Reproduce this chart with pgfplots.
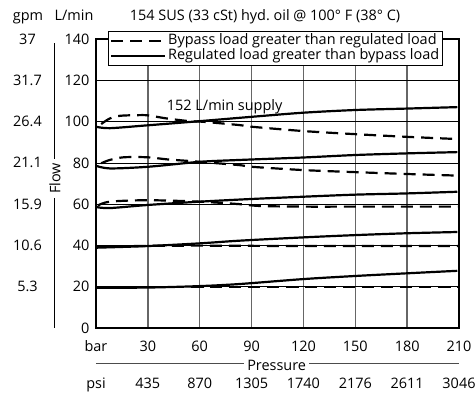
\documentclass[border=0pt]{standalone}
\usepackage{fontspec}
\setmainfont{Open Sans}
\usepackage{pgfplots}
\pgfplotsset{compat=1.18}
\begin{document}
\begin{tikzpicture}[font=\fontsize{14.5}{16}\selectfont]
\useasboundingbox (-96bp,-66bp) rectangle (380bp,328bp);
\begin{axis}[
  at={(0,0)}, anchor=south west,
  scale only axis, width=363bp, height=289bp,
  xmin=0, xmax=210, ymin=0, ymax=140,
  xtick={0,30,60,90,120,150,180,210},
  xticklabels={bar,30,60,90,120,150,180,210},
  ytick={0,20,40,60,80,100,120,140},
  yticklabels={0,20,40,60,80,100,120,140},
  major tick length=0pt,
  xmajorgrids, ymajorgrids,
  x grid style={color=black!60, line width=1.3bp},
  y grid style={black, line width=0.7bp},
  axis line style={line width=1.2bp},
  xticklabel style={anchor=base, yshift=-23bp},
  yticklabel style={anchor=east, xshift=-3bp},
  clip=false,
  legend style={at={(rel axis cs:0.033,1.0277)}, anchor=north west,
    draw=black, line width=1bp, fill=white, inner sep=1.5bp,
    row sep=0bp, font=\fontsize{14.5}{16}\selectfont,
    nodes={inner ysep=0.5bp, text height=11bp, text depth=3.5bp}},
  legend cell align=left,
  legend image code/.code={\draw[#1] (0bp,0bp) -- (54bp,0bp);},
]
\addlegendimage{black, line width=2.2bp, dash pattern=on 12bp off 7bp}
\addlegendentry{Bypass load greater than regulated load}
\addlegendimage{black, line width=2.2bp}
\addlegendentry{Regulated load greater than bypass load}

% 100 L/min pair
\addplot[black, line width=2.2bp, smooth, forget plot] coordinates {
(0,97.5)(8,96.8)(30,98.2)(60,100.2)(90,102.3)(120,104.3)(150,105.6)(180,106.3)(209,107)};
\addplot[black, line width=2.2bp, smooth, forget plot, dash pattern=on 12bp off 7bp] coordinates {
(3,98.8)(8,101.5)(14,102.8)(24,103.1)(30,103)(41,101.5)(54,100.2)(62,99.9)(83,98.3)(90,97.5)(120,95.4)(150,93.9)(180,92.6)(210,91.5)};
% 80 pair
\addplot[black, line width=2.2bp, smooth, forget plot] coordinates {
(0,78.6)(8,77.3)(30,78.1)(60,80.5)(83,81.4)(120,82.6)(150,83.8)(180,84.6)(209,85.2)};
\addplot[black, line width=2.2bp, smooth, forget plot, dash pattern=on 12bp off 7bp] coordinates {
(3,79.8)(8,81.4)(16,82.7)(30,82.7)(41,81.7)(54,80.9)(60,80.5)(83,78.9)(90,78.1)(120,76.5)(150,75.5)(180,74.6)(210,73.8)};
% 60 pair
\addplot[black, line width=2.2bp, smooth, forget plot] coordinates {
(0,58.6)(8,58.1)(30,59.6)(60,61.2)(90,62.5)(120,63.6)(150,64.6)(180,65.2)(209,66)};
\addplot[black, line width=2.2bp, smooth, forget plot, dash pattern=on 12bp off 7bp] coordinates {
(1,59.3)(8,61.2)(30,61.9)(60,61.2)(83,60)(95,59.1)(120,58.8)(150,58.8)(180,58.8)(210,58.8)};
% 40 pair
\addplot[black, line width=2.2bp, smooth, forget plot] coordinates {
(0,38.9)(30,39.7)(60,41)(83,42.3)(120,43.9)(150,45)(180,45.9)(209,46.5)};
\addplot[black, line width=2.2bp, smooth, forget plot, dash pattern=on 12bp off 7bp] coordinates {
(0,39.4)(30,39.8)(60,39.9)(90,39.8)(120,39.7)(150,39.7)(180,39.7)(210,39.7)};
% 20 pair
\addplot[black, line width=2.2bp, smooth, forget plot] coordinates {
(0,19.5)(30,19.6)(60,20.3)(83,21.3)(120,23.7)(150,25.2)(180,26.5)(209,27.7)};
\addplot[black, line width=2.2bp, smooth, forget plot, dash pattern=on 12bp off 7bp] coordinates {
(0,19.8)(30,19.8)(60,19.8)(90,19.8)(120,19.8)(150,19.8)(180,19.8)(210,19.8)};

\node[anchor=base west] at (axis cs:39,105.6) {152 L/min supply};

% gpm scale
\node at ([xshift=-68.5bp]axis cs:0,20) {5.3};
\node at ([xshift=-68.5bp]axis cs:0,40) {10.6};
\node at ([xshift=-68.5bp]axis cs:0,60) {15.9};
\node at ([xshift=-68.5bp]axis cs:0,80) {21.1};
\node at ([xshift=-68.5bp]axis cs:0,100) {26.4};
\node at ([xshift=-68.5bp]axis cs:0,120) {31.7};
\node at ([xshift=-68.5bp]axis cs:0,140) {37};
\draw[line width=1bp] ([xshift=-41bp]axis cs:0,138) -- ([xshift=-41bp]axis cs:0,82);
\draw[line width=1bp] ([xshift=-41bp]axis cs:0,63) -- ([xshift=-41bp]axis cs:0,0);
\node[rotate=90] at ([xshift=-41bp]axis cs:0,72.4) {Flow};

% headers
\node[anchor=base] at ([xshift=-68bp,yshift=18.5bp]axis cs:0,140) {gpm};
\node[anchor=base] at ([xshift=-22bp,yshift=18.5bp]axis cs:0,140) {L/min};
\node[anchor=base] at ([yshift=18.5bp]axis cs:97.8,140) {154 SUS (33 cSt) hyd.\ oil @ 100° F (38° C)};

% pressure
\draw[line width=0.8bp, black!70] ([yshift=-35bp]axis cs:0,0) -- ([yshift=-35bp]axis cs:210,0);
\node[anchor=base, fill=white, inner xsep=3bp, inner ysep=1bp] at ([yshift=-42bp]axis cs:104.5,0) {Pressure};
\node[anchor=base] at ([yshift=-60bp]axis cs:0,0) {psi};
\node[anchor=base] at ([yshift=-60bp]axis cs:30,0) {435};
\node[anchor=base] at ([yshift=-60bp]axis cs:60,0) {870};
\node[anchor=base] at ([yshift=-60bp]axis cs:90,0) {1305};
\node[anchor=base] at ([yshift=-60bp]axis cs:120,0) {1740};
\node[anchor=base] at ([yshift=-60bp]axis cs:150,0) {2176};
\node[anchor=base] at ([yshift=-60bp]axis cs:180,0) {2611};
\node[anchor=base] at ([yshift=-60bp]axis cs:210,0) {3046};
\end{axis}
\end{tikzpicture}
\end{document}
